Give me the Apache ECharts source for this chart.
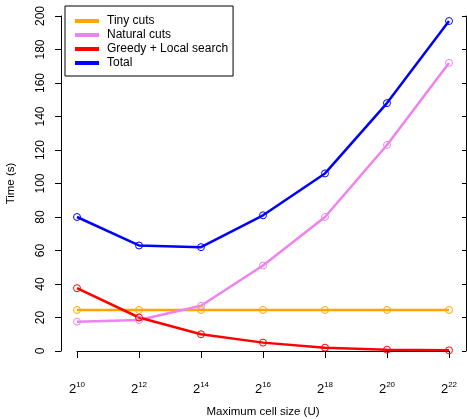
<!DOCTYPE html>
<html>
<head>
<meta charset="utf-8">
<script src="https://cdn.jsdelivr.net/npm/echarts@6/dist/echarts.min.js"></script>
<style>
  html, body { margin: 0; padding: 0; background: #fff; }
  #chart { width: 467px; height: 419px; }
</style>
</head>
<body>
<div id="chart"></div>
<script>
// exponents of the cell size, U = 2^k
const exponents = [10, 12, 14, 16, 18, 20, 22]
const tinyCuts = [24.5, 24.5, 24.5, 24.5, 24.5, 24.5, 24.5]
const naturalCuts = [17.5, 18.5, 27, 51, 80, 123, 172]
const greedyLocal = [37.5, 20, 10, 5, 2, 0.8, 0.4]
const total = [80, 63, 62, 81, 106, 148, 197]
const yTicks = [0, 20, 40, 60, 80, 100, 120, 140, 160, 180, 200]

const font = 'Liberation Sans'
const chart = echarts.init(document.getElementById('chart'))

function line(name, data, color) {
  return {
    name: name,
    type: 'line',
    data: data,
    symbol: 'circle',
    symbolSize: 7,
    lineStyle: { color: color, width: 2.5 },
    itemStyle: { color: 'rgba(0,0,0,0)', borderColor: color, borderWidth: 1 },
    emphasis: { disabled: true },
    animation: false
  }
}

chart.setOption({
  textStyle: { fontFamily: font },
  grid: { left: 77, right: 18, top: 16, bottom: 68, outerBoundsMode: 'none' },
  legend: {
    orient: 'vertical',
    left: 65,
    top: 6,
    padding: [8, 5, 6, 10],
    borderColor: '#000',
    borderWidth: 1,
    itemWidth: 22,
    itemHeight: 2,
    itemGap: 0,
    icon: 'rect',
    textStyle: { fontSize: 12, color: '#000', lineHeight: 14, padding: [0, 0, 0, 4], fontFamily: font },
    data: [
      { name: 'Tiny cuts', itemStyle: { color: '#FFA500' } },
      { name: 'Natural cuts', itemStyle: { color: '#EE82EE' } },
      { name: 'Greedy + Local search', itemStyle: { color: '#FF0000' } },
      { name: 'Total', itemStyle: { color: '#0000FF' } }
    ]
  },
  xAxis: {
    type: 'category',
    data: exponents,
    boundaryGap: false,
    offset: 14,
    name: 'Maximum cell size (U)',
    nameLocation: 'middle',
    nameGap: 41,
    nameTextStyle: { fontSize: 11.5, color: '#000' },
    axisLine: { lineStyle: { color: '#000', width: 1 } },
    axisTick: { alignWithLabel: true, length: 7, lineStyle: { color: '#000' } },
    axisLabel: {
      interval: 0,
      margin: 16,
      formatter: k => '{b|2}{s|' + k + '}',
      rich: {
        b: { fontSize: 13, color: '#000', fontFamily: font },
        s: { fontSize: 8, color: '#000', fontFamily: font, padding: [0, 0, 8, 0] }
      }
    }
  },
  yAxis: [
    {
      type: 'value',
      min: 0,
      max: 200,
      interval: 20,
      offset: 16,
      name: 'Time (s)',
      nameLocation: 'middle',
      nameRotate: 90,
      nameGap: 44,
      nameTextStyle: { fontSize: 11.5, color: '#000' },
      axisLine: { show: true, lineStyle: { color: '#000', width: 1 } },
      axisTick: { show: true, length: 6, lineStyle: { color: '#000' } },
      axisLabel: {
        rotate: 90,
        margin: 14,
        fontSize: 12,
        color: '#000',
        formatter: v => (yTicks.indexOf(v) >= 0 ? String(v) : '')
      },
      splitLine: { show: false }
    },
    {
      type: 'value',
      position: 'right',
      min: 0,
      max: 200,
      interval: 20,
      offset: 17,
      axisLine: { show: true, lineStyle: { color: '#000', width: 1 } },
      axisTick: { show: true, inside: true, length: 4, lineStyle: { color: '#000' } },
      axisLabel: { show: false },
      splitLine: { show: false }
    }
  ],
  series: [
    line('Tiny cuts', tinyCuts, '#FFA500'),
    line('Natural cuts', naturalCuts, '#EE82EE'),
    line('Greedy + Local search', greedyLocal, '#FF0000'),
    line('Total', total, '#0000FF')
  ]
})
</script>
</body>
</html>
